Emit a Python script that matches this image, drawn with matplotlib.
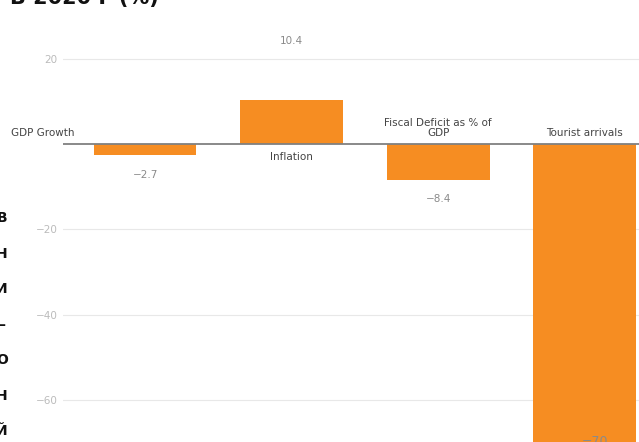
import matplotlib
matplotlib.use("Agg")
import matplotlib.pyplot as plt

categories = ["GDP Growth", "Inflation", "Fiscal Deficit as % of\nGDP", "Tourist arrivals"]
values = [-2.7, 10.4, -8.4, -70.0]
value_labels = ["\u22122.7", "10.4", "\u22128.4", "\u221270"]
tick_values = [20, -20, -40, -60]
tick_labels = ["20", "\u221220", "\u221240", "\u221260"]
title = "В 2020 Г (%)"
side_letters = ["В", "Н", "И", "\u2013", "О", "Н", "Й"]

ORANGE = "#F68D22"
LABEL_GREY = "#8A8A8A"
TICK_GREY = "#BBBBBB"
GRID_GREY = "#E8E8E8"

plt.rcParams["font.family"] = ["DejaVu Sans"]

fig = plt.figure(figsize=(6.39, 4.42), dpi=100)
ax = fig.add_axes([63 / 639, 0, 1 - 63 / 639, 1])

x = list(range(len(categories)))
ax.bar(x, values, width=0.70, color=ORANGE, zorder=2)

ax.set_xlim(-0.56, 3.37)
ax.set_ylim(-69.8, 33.7)

ax.set_yticks(tick_values)
ax.set_yticklabels(tick_labels, color=TICK_GREY, fontsize=7.5)
ax.tick_params(axis="y", length=0, pad=4)
ax.set_xticks([])
ax.yaxis.grid(True, color=GRID_GREY, linewidth=0.8, zorder=0)
for s in ax.spines.values():
    s.set_visible(False)
ax.axhline(0, color="#808080", linewidth=1.3, zorder=3)

# category labels sit on the opposite side of the zero line from the bar
for i, (cat, v) in enumerate(zip(categories, values)):
    xi = i - 0.70 if i == 0 else i
    if v < 0:
        ax.text(xi, 1.5, cat, ha="center", va="bottom", fontsize=7.5,
                color="#444444", linespacing=0.95, clip_on=False)
    else:
        ax.text(xi, -1.8, cat, ha="center", va="top", fontsize=7.5,
                color="#444444", clip_on=False)

# value labels
for i, (lab, v) in enumerate(zip(value_labels, values)):
    if v >= 0:
        ax.text(i, v + 13.7, lab, ha="center", va="center", fontsize=7.5,
                color=LABEL_GREY)
    elif v < -60:
        ax.text(i + 0.07, -69.6, lab, ha="center", va="center", fontsize=9,
                color=LABEL_GREY, clip_on=False)
    else:
        ax.text(i, v - 4.6, lab, ha="center", va="center", fontsize=7.5,
                color=LABEL_GREY)

# cropped title and side label
fig.text(0.015, 1 - 4 / 442, title, ha="left", va="baseline",
         fontsize=15, fontweight="bold", color="#111111")
for k, ch in enumerate(side_letters):
    fig.text(0.003, 1 - (218 + k * 35.5) / 442, ch, ha="center", va="center",
             fontsize=10, fontweight="bold", color="#111111")

fig.savefig("out.png", dpi=100)
